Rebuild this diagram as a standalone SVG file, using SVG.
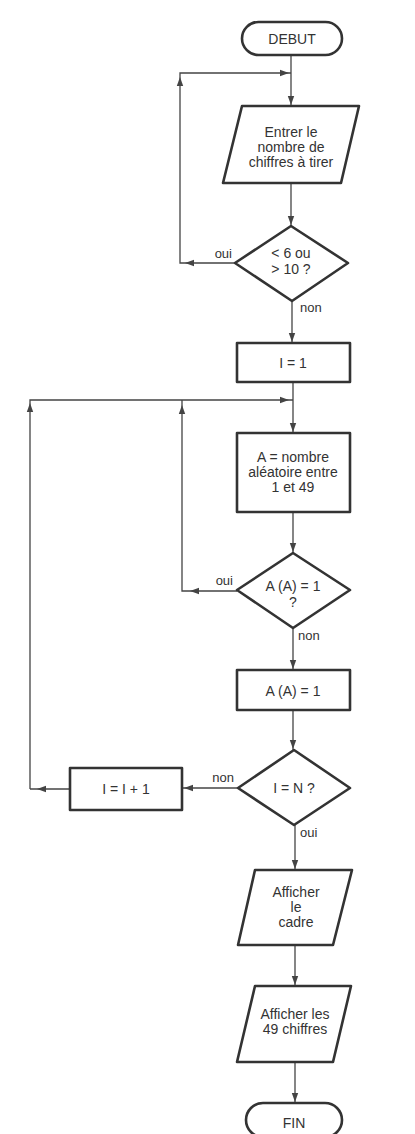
<svg xmlns="http://www.w3.org/2000/svg" xmlns:xlink="http://www.w3.org/1999/xlink" width="415" height="1134" viewBox="0 0 415 1134">
<style>
.shape{fill:#fff;stroke:#333;stroke-width:2.6;stroke-linejoin:round}
.conn{fill:none;stroke:#444;stroke-width:1.3}
.ah{fill:#444;stroke:none}
text{font-family:"Liberation Sans",Arial,sans-serif;font-size:14px;fill:#333;text-anchor:middle}
.lbl{font-size:13px;text-anchor:start}
.lblr{font-size:13px;text-anchor:end}
</style>
<defs>
<path id="arrow" d="M0,0 L-9,-3.2 L-9,3.2 Z"/>
</defs>
<rect width="415" height="1134" fill="#fff"/>
<g id="connectors">
<path class="conn" d="M291,55 V106"/>
<path class="conn" d="M291,183 V226"/>
<path class="conn" d="M235,263 H180 V73 H291"/>
<path class="conn" d="M292,301 V343"/>
<path class="conn" d="M293,382 V433"/>
<path class="conn" d="M30,789 V400 H293"/>
<path class="conn" d="M237,591 H182 V400"/>
<path class="conn" d="M293,512 V553"/>
<path class="conn" d="M293,628 V670"/>
<path class="conn" d="M293,710 V750"/>
<path class="conn" d="M238,788 H182"/>
<path class="conn" d="M70,789 H30"/>
<path class="conn" d="M295,825 V870"/>
<path class="conn" d="M295,945 V986"/>
<path class="conn" d="M295,1062 V1103"/>
<g class="ah">
<use xlink:href="#arrow" transform="translate(291,105) rotate(90)"/>
<use xlink:href="#arrow" transform="translate(291,225) rotate(90)"/>
<use xlink:href="#arrow" transform="translate(185,263) rotate(180)"/>
<use xlink:href="#arrow" transform="translate(180,77) rotate(-90)"/>
<use xlink:href="#arrow" transform="translate(289,73)"/>
<use xlink:href="#arrow" transform="translate(292,342) rotate(90)"/>
<use xlink:href="#arrow" transform="translate(289,400)"/>
<use xlink:href="#arrow" transform="translate(293,432) rotate(90)"/>
<use xlink:href="#arrow" transform="translate(30,403) rotate(-90)"/>
<use xlink:href="#arrow" transform="translate(182,405) rotate(-90)"/>
<use xlink:href="#arrow" transform="translate(190,591) rotate(180)"/>
<use xlink:href="#arrow" transform="translate(293,552) rotate(90)"/>
<use xlink:href="#arrow" transform="translate(293,669) rotate(90)"/>
<use xlink:href="#arrow" transform="translate(293,749) rotate(90)"/>
<use xlink:href="#arrow" transform="translate(184,788) rotate(180)"/>
<use xlink:href="#arrow" transform="translate(37,789) rotate(180)"/>
<use xlink:href="#arrow" transform="translate(295,869) rotate(90)"/>
<use xlink:href="#arrow" transform="translate(295,985) rotate(90)"/>
<use xlink:href="#arrow" transform="translate(295,1102) rotate(90)"/>
</g>
<text class="lblr" x="232" y="258">oui</text>
<text class="lbl" x="300" y="312">non</text>
<text class="lblr" x="233" y="585">oui</text>
<text class="lbl" x="298" y="640">non</text>
<text class="lblr" x="234" y="782">non</text>
<text class="lbl" x="300" y="837">oui</text>
</g>
<g id="debut">
<rect class="shape" x="242" y="22" width="100" height="33" rx="16.5"/>
<text x="292" y="43.5">DEBUT</text>
</g>
<g id="entrer">
<polygon class="shape" points="242,106 359,106 341,183 223,183"/>
<text x="291" y="137">Entrer le</text>
<text x="291" y="152">nombre de</text>
<text x="291" y="167">chiffres à tirer</text>
</g>
<g id="test1">
<polygon class="shape" points="291,226 348,263 292,301 235,263"/>
<text x="291" y="258">&lt; 6 ou</text>
<text x="291" y="274">&gt; 10 ?</text>
</g>
<g id="init">
<rect class="shape" x="237" y="343" width="113" height="39"/>
<text x="293" y="367.5">I = 1</text>
</g>
<g id="random">
<rect class="shape" x="237" y="433" width="113" height="79"/>
<text x="293" y="462">A = nombre</text>
<text x="293" y="477">aléatoire entre</text>
<text x="293" y="492">1 et 49</text>
</g>
<g id="test2">
<polygon class="shape" points="293,553 350,590 293,628 237,590"/>
<text x="293" y="591">A (A) = 1</text>
<text x="293" y="607">?</text>
</g>
<g id="mark">
<rect class="shape" x="237" y="670" width="113" height="40"/>
<text x="293" y="696">A (A) = 1</text>
</g>
<g id="test3">
<polygon class="shape" points="294,750 350,788 294,825 238,788"/>
<text x="294" y="793">I = N ?</text>
</g>
<g id="incr">
<rect class="shape" x="70" y="768" width="112" height="42"/>
<text x="126" y="794">I = I + 1</text>
</g>
<g id="cadre">
<polygon class="shape" points="255,870 352,870 333,945 238,945"/>
<text x="296" y="897">Afficher</text>
<text x="296" y="912">le</text>
<text x="296" y="927">cadre</text>
</g>
<g id="chiffres">
<polygon class="shape" points="255,986 351,986 333,1062 237,1062"/>
<text x="295" y="1019">Afficher les</text>
<text x="295" y="1034">49 chiffres</text>
</g>
<g id="fin">
<rect class="shape" x="246" y="1103" width="96" height="34" rx="17"/>
<text x="294" y="1127.5">FIN</text>
</g>
</svg>
